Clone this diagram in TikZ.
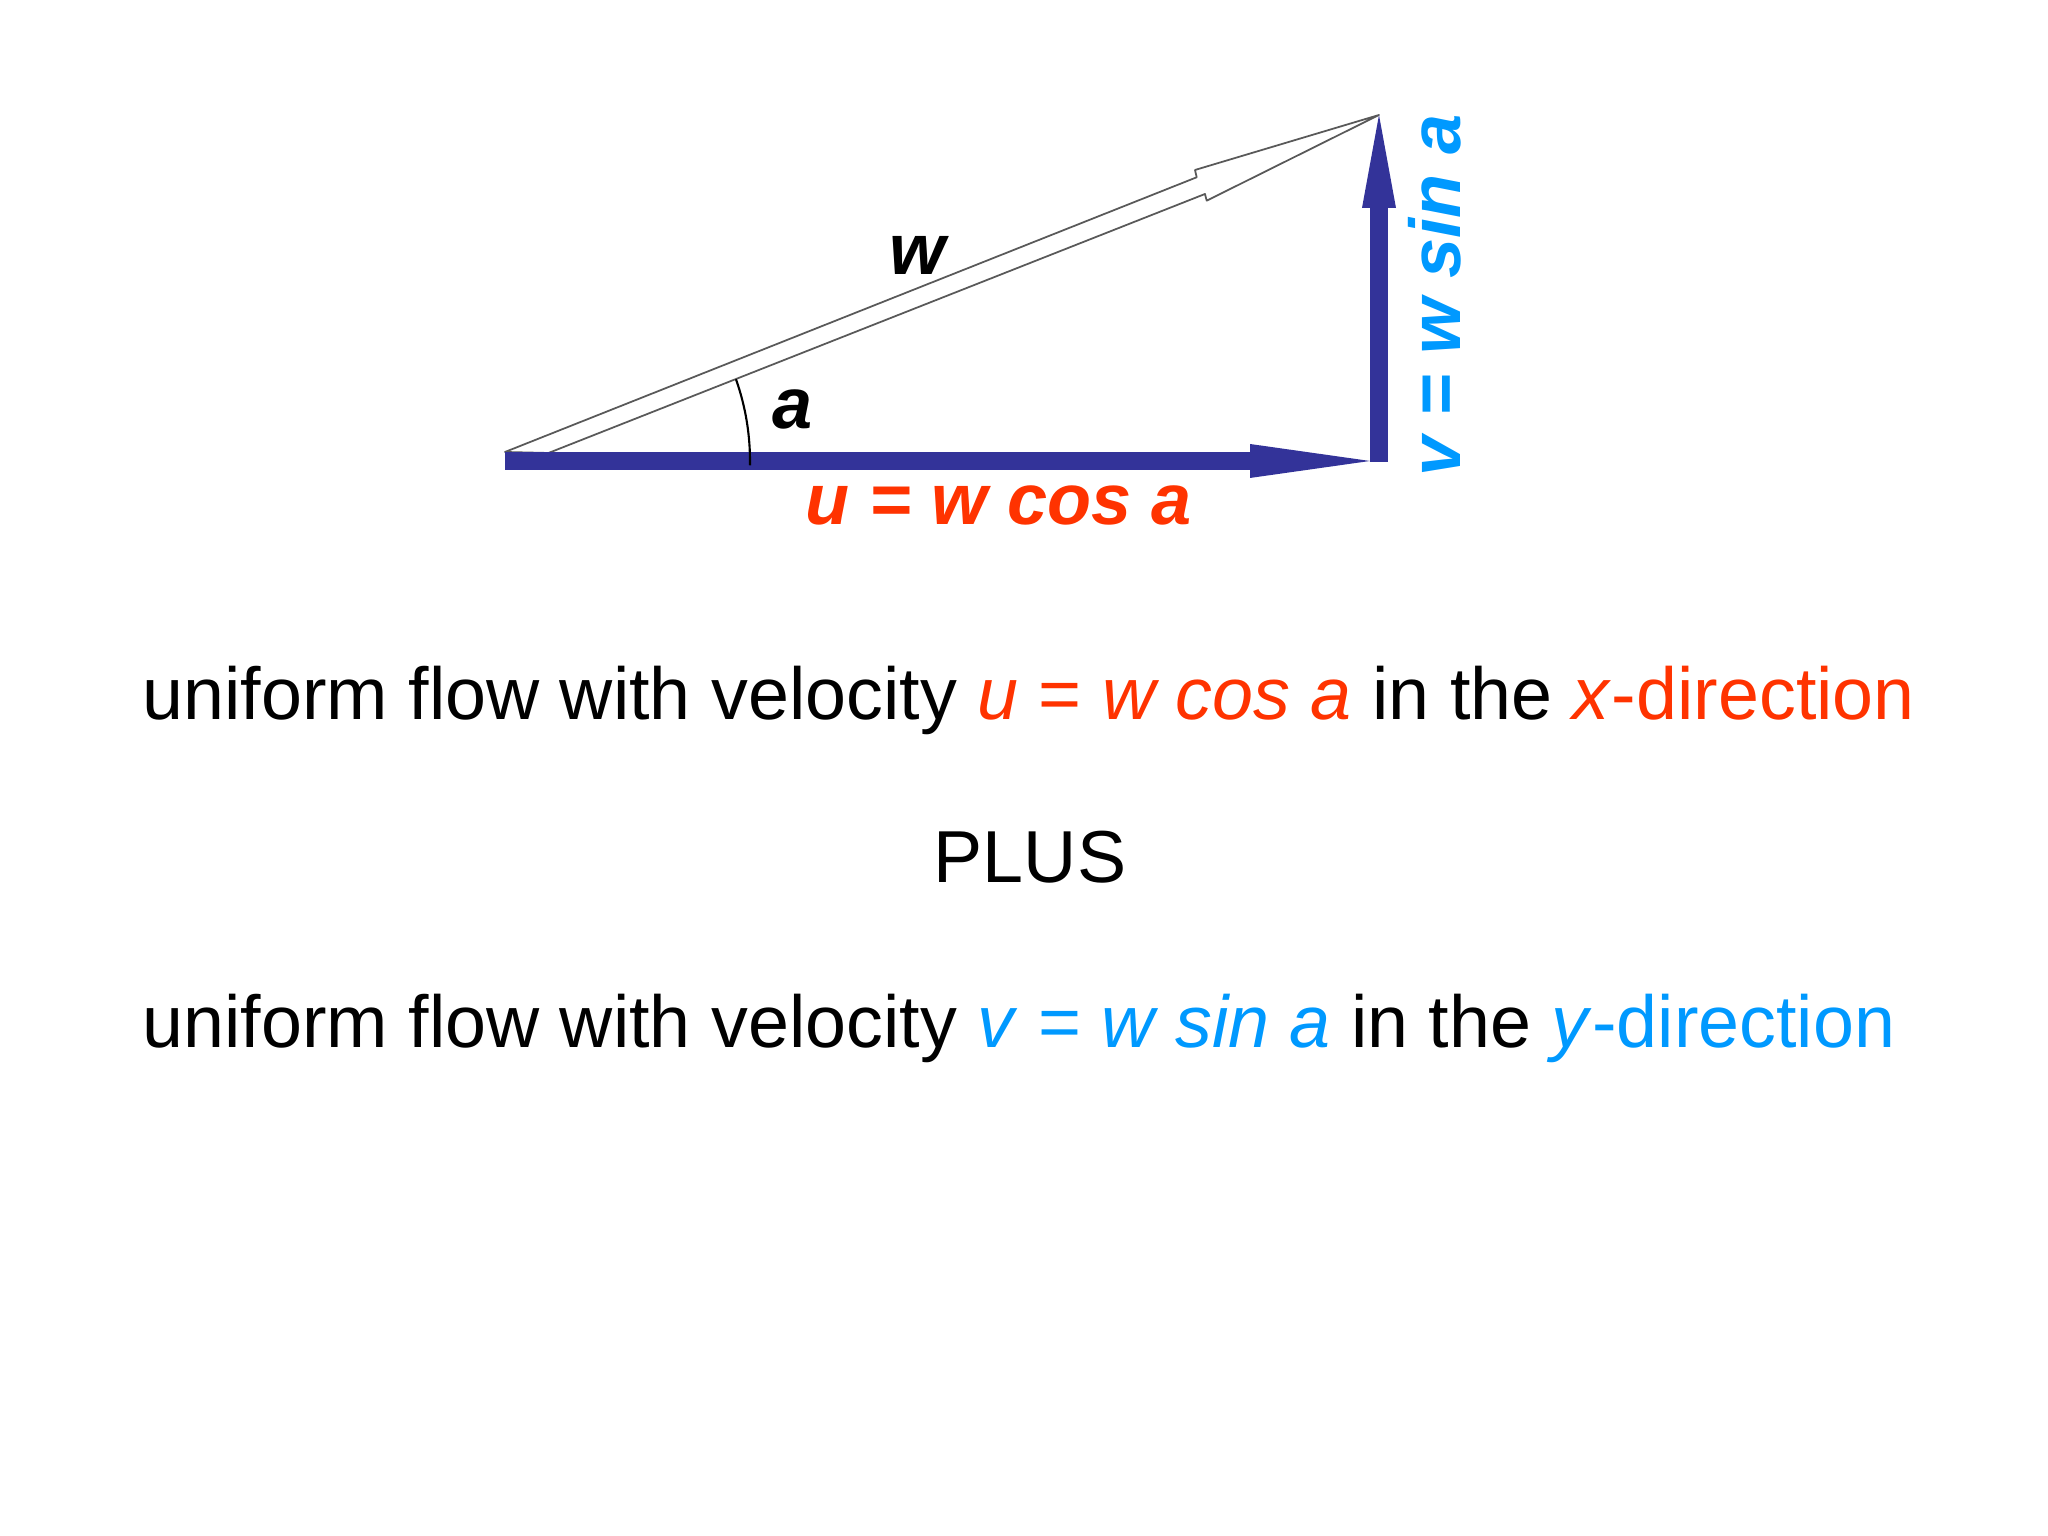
\documentclass[tikz,border=0pt]{standalone}
\usepackage{fontspec}
\setmainfont{Liberation Sans}
\usepackage{tkz-euclide}
\usetikzlibrary{arrows.meta}
\usetikzlibrary{calc}
\definecolor{navyblue}{HTML}{333399}
\definecolor{ured}{HTML}{FF3300}
\definecolor{vblue}{HTML}{0099FF}

\begin{document}
\begin{tikzpicture}
\useasboundingbox (0,0) rectangle (20.48,15.36);
%==========================================
\tkzInit;
\tkzDefPoint[](5.05,10.75){O};
\tkzDefPoint[](13.70,10.75){H};
\tkzDefPoint[](13.79,10.74){Q};
\tkzDefPoint[](13.79,14.21){P};
% hollow arrow for w
\tkzDefPoint[](5.05,10.84){w1};
\tkzDefPoint[](11.967,13.587){w2};
\tkzDefPoint[](11.95,13.66){w3};
\tkzDefPoint[](12.067,13.353){w4};
\tkzDefPoint[](12.05,13.42){w5};
\tkzDefPoint[](5.485,10.83){w6};
\tikzset{pil/.style={
           color=navyblue,
           line width=1.75mm,
           line cap=butt,
           -{Triangle[length=#1,width=3.4mm,line width=0pt]},
%           shorten <=4pt,
           },
         pil/.default=1.2cm,
         lbl/.style={font=\fontsize{20.5pt}{24pt}\selectfont\bfseries\itshape}
           }
\tkzDrawPolygon[color=black!65,fill=white,line width=0.5pt](w1,w2,w3,P,w4,w5,w6);
\draw[pil] (O) -- (H);
\draw[pil=0.93cm] (Q) -- (P);
\draw[line width=0.6pt] (O) ++(-1:2.45) arc[start angle=-1,end angle=19.5,radius=2.45];
\tkzDefPoint[](9.18,12.81){Lw};
\tkzDefPoint[](7.93,11.27){La};
\tkzDefPoint[](9.985,10.11){Lu};
\tkzDefPoint[](14.60,12.405){Lv};
\tkzLabelPoint[lbl,anchor=center](Lw){w};
\tkzLabelPoint[lbl,anchor=center](La){a};
\tkzLabelPoint[lbl,anchor=base,color=ured](Lu){u = w cos a};
\tkzLabelPoint[lbl,anchor=base,rotate=90,color=vblue](Lv){v = w sin a};
%==========================================
\tikzset{txt/.style={font=\fontsize{20.95pt}{25pt}\selectfont,inner sep=0pt}}
\node (linex) [txt,anchor=base west] at (1.42,8.16)
  {uniform flow with velocity \textcolor{ured}{\textit{u} = \textit{w cos a}} in the \textcolor{ured}{\textit{x}-direction}};
\node (plus) [txt,anchor=base] at (10.30,6.53) {PLUS};
\node (liney) [txt,anchor=base west] at (1.42,4.887)
  {uniform flow with velocity \textcolor{vblue}{\textit{v} = \textit{w sin a}} in the \textcolor{vblue}{\textit{y}-direction}};
\end{tikzpicture}
\end{document}
